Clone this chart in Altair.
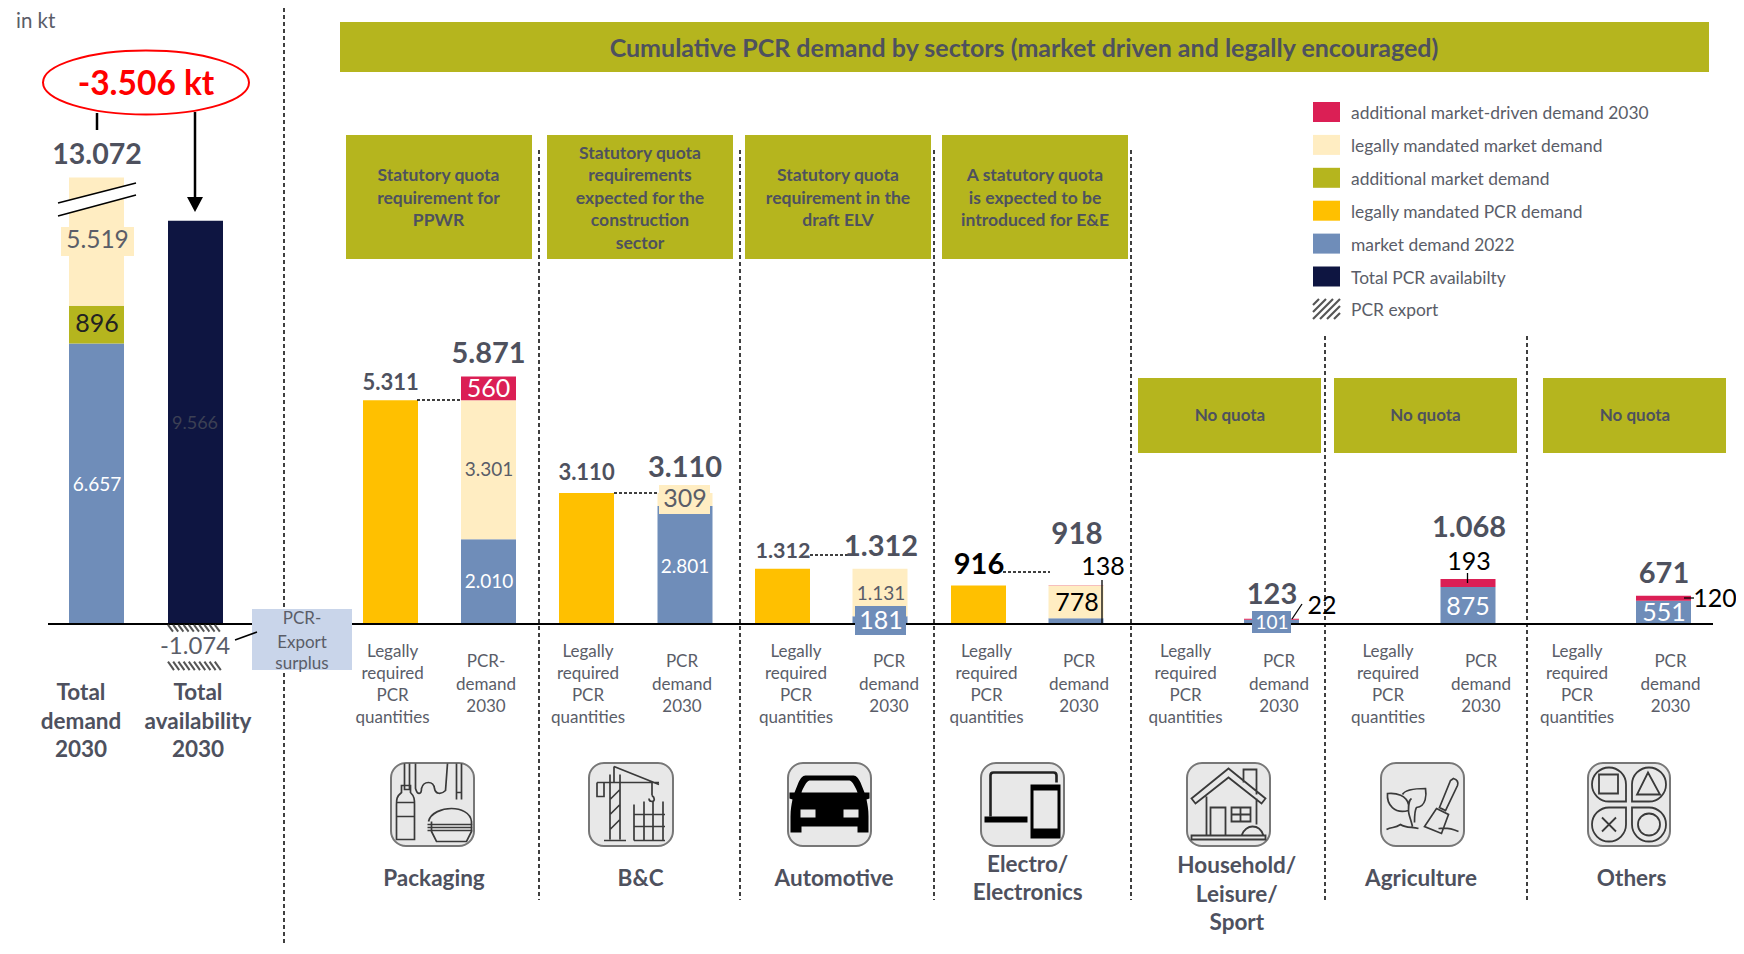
import altair as alt
import pandas as pd

# ---------- data ----------
bars = ["Total demand", "Total availability", "Packaging legal", "Packaging demand", "B&C legal", "B&C demand",
        "Automotive legal", "Automotive demand", "E&E legal", "E&E demand", "Household demand",
        "Agriculture demand", "Others demand"]
market_demand_2022 = [6657, 0, 0, 2010, 0, 2801, 0, 181, 0, 138, 101, 875, 551]
additional_market = [896, 0, 0, 0, 0, 0, 0, 0, 0, 0, 0, 0, 0]
# the 5.519 segment is drawn shortened by the axis break
legal_market_drawn = [3040, 0, 0, 3301, 0, 309, 0, 1131, 0, 778, 0, 0, 0]
legal_pcr = [0, 0, 5311, 0, 3110, 0, 1312, 0, 916, 0, 0, 0, 0]
additional_2030 = [0, 0, 0, 560, 0, 0, 0, 0, 0, 2, 22, 193, 120]
availability = [0, 9566, 0, 0, 0, 0, 0, 0, 0, 0, 0, 0, 0]
pcr_export = -1074

legend_labels = ["additional market-driven demand 2030", "legally mandated market demand", "additional market demand",
                 "legally mandated PCR demand", "market demand 2022", "Total PCR availabilty", "PCR export"]
title_text = "Cumulative PCR demand by sectors (market driven and legally encouraged)"
quota_lines = [["Statutory quota", "requirement for", "PPWR"],
               ["Statutory quota", "requirements", "expected for the", "construction", "sector"],
               ["Statutory quota", "requirement in the", "draft ELV"],
               ["A statutory quota", "is expected to be", "introduced for E&E"]]
no_quota = "No quota"
sector_names = [["Packaging"], ["B&C"], ["Automotive"], ["Electro/", "Electronics"],
                ["Household/", "Leisure/", "Sport"], ["Agriculture"], ["Others"]]
legal_label = ["Legally", "required", "PCR", "quantities"]
demand_label = ["PCR", "demand", "2030"]
packaging_demand_label = ["PCR-", "demand", "2030"]

# ---------- styles ----------
RED, CREAM, OLIVE, GOLD, BLUE, NAVY = "#DB1F55", "#FFEDC2", "#B5B51E", "#FFC000", "#6F8DB9", "#0E1541"
GRAY, MID = "#4E515E", "#5A5D68"
FONT = "Lato"
W, H = 1728, 938
XS = alt.Scale(domain=[8, 8 + W], range=[0, W])
YP = alt.Scale(domain=[8, 8 + H], range=[0, H])
PX = 0.04215
YV = alt.Scale(domain=[(616 - H) / PX, 616 / PX], range=[H, 0], nice=False, zero=False)

layers = []


def seg(rows, color, **kw):
    d = pd.DataFrame(rows, columns=["x", "x2", "y", "y2"])
    layers.append(alt.Chart(d).mark_rect(color=color, **kw).encode(
        x=alt.X("x:Q", scale=XS, axis=None), x2="x2:Q",
        y=alt.Y("y:Q", scale=YP, axis=None), y2="y2:Q"))


def lines(rows, color="#000000", width=1.5, dash=None, scale=YP):
    d = pd.DataFrame(rows, columns=["x", "y", "x2", "y2"])
    kw = {"strokeDash": dash} if dash else {}
    layers.append(alt.Chart(d).mark_rule(color=color, strokeWidth=width, **kw).encode(
        x=alt.X("x:Q", scale=XS, axis=None), x2="x2:Q",
        y=alt.Y("y:Q", scale=scale, axis=None), y2="y2:Q"))


def symbol(path, cx, cy, fill=None, stroke=None, width=2.0):
    d = pd.DataFrame({"x": [cx], "y": [cy]})
    kw = {"filled": fill is not None, "opacity": 1, "size": 4, "shape": path}
    if fill is not None:
        kw["fill"] = fill
        kw["fillOpacity"] = 1
    if stroke is not None:
        kw["stroke"] = stroke
        kw["strokeWidth"] = width
    else:
        kw["strokeWidth"] = 0
    layers.append(alt.Chart(d).mark_point(**kw).encode(
        x=alt.X("x:Q", scale=XS, axis=None), y=alt.Y("y:Q", scale=YP, axis=None)))


# ---------- dividers ----------
lines([[284, 8, 284, 946]], dash=[4, 3])
lines([[x, 150, x, 900] for x in (539, 740, 934, 1131)] + [[x, 336, x, 900] for x in (1325, 1527)], dash=[4, 3])

# ---------- header boxes ----------
seg([[340, 1709, 22, 72]], OLIVE)
seg([[346, 532, 135, 259], [547, 733, 135, 259], [745, 931, 135, 259], [942, 1128, 135, 259],
     [1138, 1321, 378, 453], [1334, 1517, 378, 453], [1543, 1726, 378, 453]], OLIVE)

# ---------- stacked bars, through the value scale ----------
bar_centers = [96.5, 195.5, 390.5, 488.5, 586.5, 685, 782.5, 880, 978.5, 1076, 1271.5, 1468, 1663.5]
series = [("market demand 2022", market_demand_2022, BLUE), ("additional market demand", additional_market, OLIVE),
          ("legally mandated market demand", legal_market_drawn, CREAM), ("legally mandated PCR demand", legal_pcr, GOLD),
          ("additional market-driven demand 2030", additional_2030, RED), ("Total PCR availabilty", availability, NAVY)]
rows = []
for i, (b, c) in enumerate(zip(bars, bar_centers)):
    base = 0
    for name, vals, col in series:
        v = vals[i]
        if v:
            rows.append(dict(bar=b, series=name, x=c - 27.5, x2=c + 27.5, y=base, y2=base + v, value=v))
            base += v
df = pd.DataFrame(rows)
layers.append(alt.Chart(df).mark_rect().encode(
    x=alt.X("x:Q", scale=XS, axis=None), x2="x2:Q",
    y=alt.Y("y:Q", scale=YV, axis=None), y2="y2:Q",
    color=alt.Color("series:N", legend=None,
                    scale=alt.Scale(domain=[s[0] for s in series], range=[s[2] for s in series]))))

# axis break
lines([[58, 209.5, 136, 189]], color="#FFFFFF", width=12)
lines([[58, 203, 136, 183], [58, 216, 136, 195]], width=1.5)

# baseline
lines([[48, 624, 1713, 624]], width=2.2)


# hatching of the export bar (value scale) and of the legend key
def hatch(x0, x1, v0, v1, dx, step=5.2):
    out, x = [], x0
    while x + dx <= x1 + 0.1:
        out.append([x, v0, x + dx, v1])
        x += step
    return out


lines(hatch(168, 223, pcr_export * 0.02, pcr_export * 0.17, 5) + hatch(168, 223, pcr_export * 0.83, pcr_export * 1.02, 6),
      color="#555555", width=2, scale=YV)
lines([(1313, 305, 1319, 299), (1313, 312, 1326, 299), (1313, 319, 1333, 299), (1320, 319, 1340, 299),
       (1327, 319, 1340, 306), (1334, 319, 1340, 313)], color="#555555", width=2.2)

# ---------- label backgrounds ----------
seg([[61, 134, 227, 256], [659, 710, 485, 514]], CREAM)
seg([[855, 906, 606, 635], [1252, 1291, 611, 633]], BLUE)
seg([[252, 352, 609, 670]], "#C9D5EA")

# ---------- leader lines ----------
lines([[235, 640, 257, 632]], width=1.5)
lines([[1102, 580, 1102, 624], [1292, 619, 1302, 604], [1467.5, 573, 1467.5, 583], [1684, 598, 1694, 598]], width=1.3)
lines([[417, 400, 461, 400], [614, 493, 658, 493], [810, 555, 852, 555], [1003, 572, 1050, 572]], width=1.3, dash=[3, 2])

# ---------- ellipse + arrow ----------
symbol("M-103,0 A103,32 0 1 0 103,0 A103,32 0 1 0 -103,0 Z", 146, 82.5, fill="#FFFFFF", stroke="#FF0000", width=2)
lines([[97, 113, 97, 130]], width=2.5)
lines([[195, 112, 195, 200]], width=2.5)
symbol("M-8,-7.5 H8 L0,7.5 Z", 195, 204.5, fill="#000000")

# ---------- legend keys ----------
legend_colors = [RED, CREAM, OLIVE, GOLD, BLUE, NAVY]
for i, c in enumerate(legend_colors):
    y0 = 102 + 32.9 * i
    seg([[1313, 1340, y0, y0 + 20]], c)

# ---------- icons ----------
ICON_Y = 804.5
ICON_INK = "#3A3A3A"
icon_d = pd.DataFrame({"x": [391, 589, 788, 981, 1187, 1381, 1588], "x2": [474, 673, 871, 1064, 1270, 1464, 1670],
                       "y": [763] * 7, "y2": [846] * 7})
layers.append(alt.Chart(icon_d).mark_rect(fill="#E8E8E8", stroke="#777777", strokeWidth=2, cornerRadius=15).encode(
    x=alt.X("x:Q", scale=XS, axis=None), x2="x2:Q", y=alt.Y("y:Q", scale=YP, axis=None), y2="y2:Q"))

# packaging
symbol("M-28,-41 V-15 H-23 V-41 M-17,-41 V-16 C-15,-9 -11,-10 -11,-16 C-9,-24 1,-24 2,-16 C3,-10 9,-10 13,-14 "
       "L15,-41 M24,-41 V-5 M29,-41 V-5 M24,-12 H29 "
       "M-31,-19 H-22 V-12 C-18,-8 -18,-5 -18,0 V35 H-36 V0 C-36,-5 -36,-8 -31,-12 Z M-36,-2 H-18 M-36,12 H-18 "
       "M-4,17 C-2,8 10,4 19,4 C28,4 38,8 39,17 V27 L34,37 H4 L-1,27 V17 M-5,20 H40 M-5,23 H40 M-5,26 H40",
       432.5, ICON_Y, stroke=ICON_INK, width=1.7)
# B&C
symbol("M-21,-30 V35 M-11,-30 V35 M-27,36 H-5 M-21,-5 L-11,-15 M-21,10 L-11,0 M-21,25 L-11,15 M-34,-22 H28 "
       "M-34,-22 V-8 H-27 V-22 M-17,-38 L28,-20 M-17,-38 V-22 M21,-22 V-9 M21,-9 C24,-7 24,-3 21,-3 C18,-3 18,-6 18,-6 "
       "M3,0 V36 M13,-3 V36 M22,-3 V36 M32,-3 V36 M3,10 H34 M3,22 H34 M3,36 H34",
       631, ICON_Y, stroke=ICON_INK, width=1.7)
# automotive
symbol("M-24,-29 H24 C27,-29 29,-26 31,-22 L35,-12 H40 V-6 L37,-5 C38,0 39,5 39,12 V28 H28 V22 H-28 V28 H-39 V12 "
       "C-39,5 -38,0 -37,-5 L-40,-6 V-12 H-35 L-31,-22 C-29,-26 -27,-29 -24,-29 Z", 829.5, ICON_Y, fill="#000000")
symbol("M-20,-24 H20 C23,-24 27,-15 28,-12 H-28 C-27,-15 -23,-24 -20,-24 Z M-29,5 H-14 V13 H-29 Z M14,5 H29 V13 H14 Z",
       829.5, ICON_Y, fill="#E8E8E8")
# electronics
symbol("M-32,12 V-29 C-32,-31 -31,-32 -29,-32 H31 C33,-32 34,-31 34,-29 V-22", 1022.5, ICON_Y, stroke="#222222", width=2.6)
symbol("M-38,12 H5 V18 H-38 Z M8,-20 H38 V34 H8 Z", 1022.5, ICON_Y, fill="#000000")
symbol("M11,-14 H35 V24 H11 Z", 1022.5, ICON_Y, fill="#E8E8E8")
# household
symbol("M-37,-6 L0,-36 L37,-6 L33,-1 L0,-27 L-33,-1 Z M15,-22 V-35 H28 V-10 M-22,-8 V31 M28,-6 V20 "
       "M-18,31 V3 H-3 V31 M3,3 H22 V17 H3 Z M12,3 V17 M3,10 H22 M-37,31 H37 V35 H-37 Z M13,31 C15,25 20,22 24,22 C29,22 33,25 35,31",
       1228.5, ICON_Y, stroke=ICON_INK, width=1.8)
# agriculture
symbol("M-10,22 C-12,14 -14,10 -14,6 C-28,10 -36,0 -35,-11 C-26,-12 -16,-9 -14,0 M-14,6 C-14,0 -14,-4 -11,-6 "
       "M-8,18 C-8,10 -8,6 -6,3 C4,2 4,-10 3,-16 C-8,-16 -18,-14 -20,-10 M31,-26 C35,-25 36,-22 35,-19 L23,6 L17,3 L28,-24 Z "
       "M14,4 L26,10 L19,29 L2,22 Z M-36,25 C-30,22 -28,24 -22,20 C-16,24 -10,22 -4,24 M16,24 C20,24 24,22 36,27",
       1422.5, ICON_Y, stroke=ICON_INK, width=1.7)
# others
symbol("M-3,-3 V-20 A17,17 0 0 0 -37,-20 A17,17 0 0 0 -20,-3 Z M3,-3 V-20 A17,17 0 0 1 37,-20 A17,17 0 0 1 20,-3 Z "
       "M-3,3 V20 A17,17 0 0 1 -37,20 A17,17 0 0 1 -20,3 Z M3,3 V20 A17,17 0 0 0 37,20 A17,17 0 0 0 20,3 Z "
       "M-30,-30 H-11 V-11 H-30 Z M19,-32 L31,-10 H8 Z M-27,13 L-13,27 M-13,13 L-27,27 "
       "M31,20 A11,11 0 1 0 9,20 A11,11 0 1 0 31,20 Z", 1629, ICON_Y, stroke=ICON_INK, width=1.8)

# ---------- texts ----------
T = []


def t(text, x, y, size, color=GRAY, bold=False, align="center"):
    T.append(dict(text=text, x=x, y=y, size=size, color=color, bold=bold, align=align))


def fmt(v):
    return f"{v:,}".replace(",", ".")


t("in kt", 16, 22, 20.5, MID, align="left")
t("-3.506 kt", 146, 85, 33.5, "#FF0000", True)
t("13.072", 97, 155, 28.5, GRAY, True)
t("5.519", 97.5, 241, 24.5, MID)
t(fmt(896), 97, 324, 25, "#222222")
t(fmt(6657), 97, 484.5, 19, "#FFFFFF")
t(fmt(9566), 195, 424, 18, "#3C4054")
t(fmt(pcr_export), 195, 647, 24, MID)
for s, y in zip(["PCR-", "Export", "surplus"], [619, 643, 664]):
    t(s, 302, y, 17, MID)
for s, y in zip(["Total", "demand", "2030"], [693, 722, 750]):
    t(s, 81, y, 22.5, GRAY, True)
for s, y in zip(["Total", "availability", "2030"], [693, 722, 750]):
    t(s, 198, y, 22.5, GRAY, True)

t(title_text, 1024, 49, 25, GRAY, True)
for lines_, cx in zip(quota_lines, [438.5, 640, 838, 1035]):
    y0 = 198.5 - (len(lines_) - 1) * 22.5 / 2
    for i, s in enumerate(lines_):
        t(s, cx, y0 + i * 22.5, 17.5, GRAY, True)
for cx in (1230, 1425.5, 1635):
    t(no_quota, cx, 416, 17, GRAY, True)

for cx in (392.6, 588, 796, 986.5, 1185.6, 1388, 1577):
    for s, y in zip(legal_label, [652, 674, 696, 718]):
        t(s, cx, y, 17, MID)
for i, cx in enumerate((486, 682, 889, 1079, 1279, 1481, 1670.5)):
    for s, y in zip(packaging_demand_label if i == 0 else demand_label, [662, 685, 707]):
        t(s, cx, y, 17, MID)

name_pos = [(434, [879]), (640.6, [879]), (834, [879]), (1027.7, [865, 893]), (1236.8, [866, 895, 923]),
            (1421, [879]), (1631.6, [879])]
for names, (cx, ys) in zip(sector_names, name_pos):
    for s, y in zip(names, ys):
        t(s, cx, y, 22.5, GRAY, True)

# packaging values
t(fmt(5311), 390.7, 383, 22, GRAY, True)
t(fmt(5871), 488.5, 354, 29, GRAY, True)
t(fmt(560), 488.5, 389, 25, "#FFFFFF")
t(fmt(3301), 489, 470, 19, MID)
t(fmt(2010), 489, 582, 19, "#FFFFFF")
# B&C
t(fmt(3110), 586.5, 473, 22, GRAY, True)
t(fmt(3110), 685, 468, 29, GRAY, True)
t(fmt(309), 685, 499, 25, MID)
t(fmt(2801), 685, 567, 19, "#FFFFFF")
# automotive
t(fmt(1312), 783, 552, 21.5, GRAY, True)
t(fmt(1312), 881, 547, 29, GRAY, True)
t(fmt(1131), 881, 594, 19, MID)
t(fmt(181), 881, 621, 25, "#FFFFFF")
# electronics
t(fmt(916), 979, 565, 29, "#000000", True)
t(fmt(918), 1077, 535, 29.5, GRAY, True)
t(fmt(138), 1103, 567, 25, "#000000")
t(fmt(778), 1077, 603, 25, "#000000")
# household
t(fmt(123), 1272, 595, 29, GRAY, True)
t(fmt(22), 1322, 606, 25, "#000000")
t(fmt(101), 1272, 623, 19, "#FFFFFF")
# agriculture
t(fmt(1068), 1469, 528, 29, GRAY, True)
t(fmt(193), 1469, 562, 25, "#000000")
t(fmt(875), 1468, 607, 25, "#FFFFFF")
# others
t(fmt(671), 1664, 574, 29, GRAY, True)
t(fmt(120), 1715, 599, 25, "#000000")
t(fmt(551), 1664, 613, 25, "#FFFFFF")
# legend
for i, s in enumerate(legend_labels):
    t(s, 1351, 114 + 32.9 * i, 17.4, MID, align="left")

td = pd.DataFrame(T)
for (size, color, bold, align), g in td.groupby(["size", "color", "bold", "align"], sort=False):
    layers.append(alt.Chart(g).mark_text(font=FONT, fontSize=size, color=color,
                                         fontWeight="bold" if bold else "normal", align=align, baseline="middle").encode(
        x=alt.X("x:Q", scale=XS, axis=None), y=alt.Y("y:Q", scale=YP, axis=None), text="text:N"))

chart = alt.layer(*layers).resolve_scale(x="independent", y="independent", color="independent").properties(
    width=W, height=H, padding=0, autosize=alt.AutoSizeParams(type="none"), background="#FFFFFF"
).configure_view(stroke=None)

chart.save("out.html", embed_options={"renderer": "svg", "actions": False})
